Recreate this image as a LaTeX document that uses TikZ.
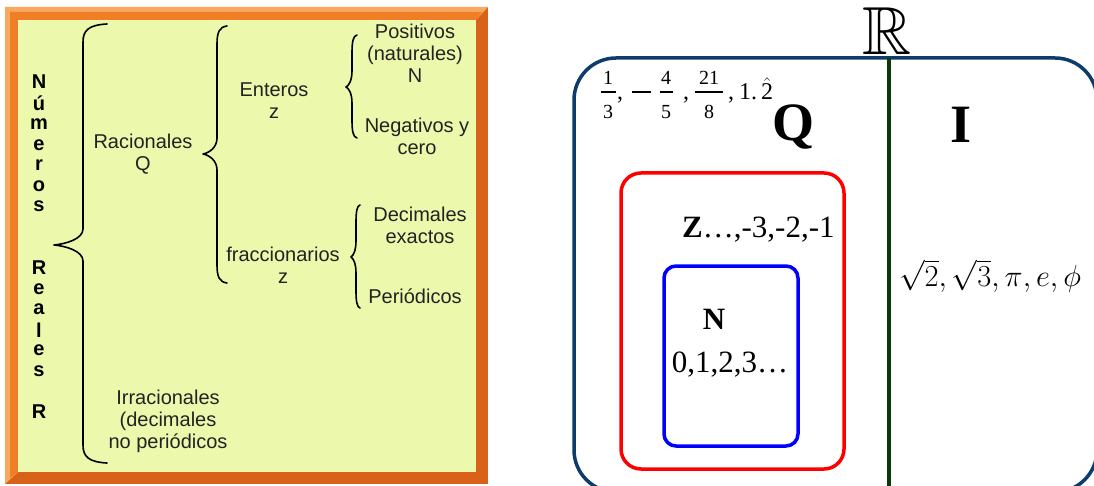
\RequirePackage{fix-cm}
\documentclass[tikz,border=0pt]{standalone}
\usepackage{amsmath,amssymb}
\usepackage{fontspec}
\setmainfont{Liberation Serif}
\setsansfont{Liberation Sans}
\definecolor{fillyg}{HTML}{ECF9AC}
\definecolor{orlight}{HTML}{F8A95E}
\definecolor{ormid}{HTML}{EE7F26}
\definecolor{ordark}{HTML}{D8621A}
\definecolor{navy}{HTML}{0B3C6C}
\definecolor{dgreen}{HTML}{0A3A0A}
\definecolor{txt}{HTML}{222222}
\tikzset{
  lbl/.style={font=\sffamily\fontsize{20}{22}\selectfont, text=txt, align=center, inner sep=0pt},
  vlet/.style={font=\sffamily\bfseries\fontsize{20}{22}\selectfont, text=black, inner sep=0pt},
  bracestyle/.style={draw=black, line width=1.6pt, line cap=round, line join=round},
  setbox/.style={line width=3.5pt, rounded corners=#1},
  sernum/.style={font=\fontsize{31}{34}\selectfont, inner sep=0pt},
  fdig/.style={font=\fontsize{20}{22}\selectfont, inner sep=0pt},
  fmain/.style={font=\fontsize{24}{27}\selectfont, inner sep=0pt, anchor=base},
  fbar/.style={line width=2.2pt}
}
\newcommand{\mybrace}[6]{% xtop, xline, xtip, ytop, ytip, ybot
  \draw[bracestyle] (#1,#4) .. controls ({#2+0.25*(#1-#2)},{#4+1}) and (#2,{#4+6}) .. (#2,{#4+18})
    -- (#2,{#5-16}) .. controls (#2,{#5-6}) and ({#3+0.4*(#2-#3)},{#5-1}) .. (#3,#5)
    .. controls ({#3+0.4*(#2-#3)},{#5+1}) and (#2,{#5+6}) .. (#2,{#5+16})
    -- (#2,{#6-18}) .. controls (#2,{#6-6}) and ({#2+0.25*(#1-#2)},{#6-1}) .. (#1,#6);}
\begin{document}
\begin{tikzpicture}[x=1pt,y=-1pt]
\useasboundingbox (0,0) rectangle (1094,486);
\fill[white] (0,0) rectangle (1094,486);
% ---------- left panel frame ----------
\fill[ordark] (5,7) rectangle (488,484);
\fill[orlight] (5,7) -- (488,7) -- (476,20) -- (18,20) -- (18,472) -- (5,484) -- cycle;
\fill[ormid] (10,12) -- (482,12) -- (476,20) -- (18,20) -- (18,472) -- (10,478) -- cycle;
\fill[fillyg] (18,20) rectangle (476,472);
% vertical title
\foreach \c/\yy [count=\i] in {N/82,ú/103,m/124,e/145,r/165,o/186,s/206,R/268,e/289,a/309,l/330,e/350,s/371,R/412}
  \node[vlet] (v\i) at (39,\yy) {\c};
% braces
\mybrace{107}{83}{54}{24}{245}{463}
\mybrace{227}{217}{203}{26}{154}{283}
\mybrace{357}{352}{346}{35}{87}{138}
\mybrace{360}{356}{351}{205}{257}{308}
% labels
\node[lbl] (rac) at (143,154) {Racionales\\Q};
\node[lbl] (ent) at (274,101) {Enteros\\z};
\node[lbl] (pos) at (415,53) {Positivos\\(naturales)\\N};
\node[lbl] (neg) at (417,136) {Negativos y\\cero};
\node[lbl] (fra) at (283,265) {fraccionarios\\z};
\node[lbl] (dec) at (420,225) {Decimales\\exactos};
\node[lbl] (per) at (415,296) {Periódicos};
\node[lbl] (irr) at (168,421) {Irracionales\\(decimales\\no periódicos};
% ---------- right panel ----------
\begin{scope}
\clip (0,0) rectangle (1094,486);
\draw[navy, setbox=42pt] (574,58) rectangle (1097,492);
\end{scope}
\draw[dgreen, line width=3.5pt] (889,58) -- (889,486);
\draw[red, setbox=20pt] (621,173) rectangle (844,469);
\draw[blue, setbox=12pt] (664,266) rectangle (798,446);
\node[inner sep=0pt, anchor=south, font=\fontsize{68}{72}\selectfont] (R) at (887,55) {$\mathbb{R}$};
% fractions list
\node[fdig] (n1) at (608,78) {1};
\node[fdig] (d1) at (608,112) {3};
\draw[fbar] (600.5,92) -- (615.5,92);
\node[fmain] (c1) at (620,100) {,};
\draw[line width=1.6pt] (632,92) -- (651,92);
\node[fdig] (n2) at (666,78) {4};
\node[fdig] (d2) at (666,112) {5};
\draw[fbar] (659.5,92) -- (673,92);
\node[fmain] (c2) at (686,100) {,};
\node[fdig] (n3) at (709,78) {21};
\node[fdig] (d3) at (709,112) {8};
\draw[fbar] (695,92) -- (723,92);
\node[fmain] (c3) at (731,100) {,};
\node[fmain, anchor=base west] (dec) at (739,100) {1.\,$\hat{\text{2}}$};
\node[inner sep=0pt, font=\bfseries\fontsize{54}{60}\selectfont] (Q) at (793,127) {Q};
\node[inner sep=0pt, font=\bfseries\fontsize{54}{60}\selectfont] (I) at (961,125) {I};
\node[sernum, anchor=base west] (Z) at (682,237) {\textbf{Z}…,-3,-2,-1};
\node[sernum, anchor=base] (N) at (714,329) {\textbf{N}};
\node[sernum, anchor=base] (nn) at (730,372) {0,1,2,3…};
\node[inner sep=0pt, anchor=base west, font=\fontsize{30.5}{33}\selectfont] (irrn) at (899,287) {$\sqrt{2},\sqrt{3},\pi,e,\phi$};
\end{tikzpicture}
\end{document}
